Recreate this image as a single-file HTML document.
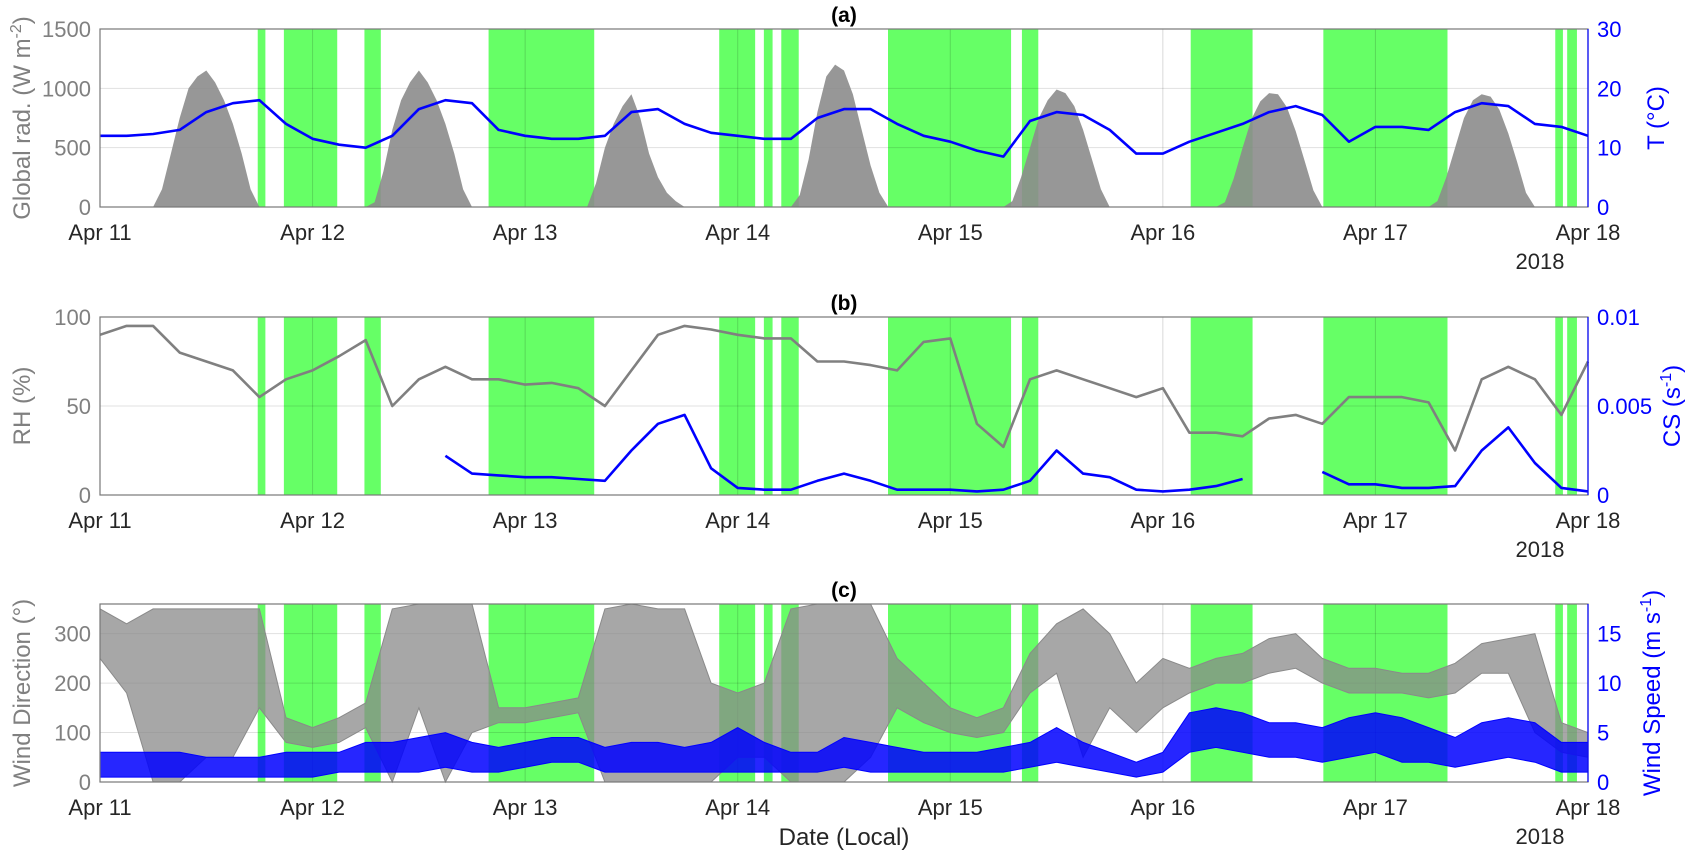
<!DOCTYPE html>
<html><head><meta charset="utf-8">
<style>
html,body{margin:0;padding:0;background:#fff;}
svg{display:block;font-family:"Liberation Sans",sans-serif;}
</style></head>
<body>
<svg id="chart" width="1701" height="855" viewBox="0 0 1701 855" xmlns="http://www.w3.org/2000/svg"></svg>
<script>
// ---- data (x in days since Apr 11 00:00; 3-hourly samples) ----
const dayLabels = ["Apr 11","Apr 12","Apr 13","Apr 14","Apr 15","Apr 16","Apr 17","Apr 18"];
const greenStart = [0.742,0.865,1.244,1.828,2.913,3.123,3.205,3.707,4.337,5.131,5.755,6.846,6.902];
const greenEnd   = [0.778,1.116,1.321,2.325,3.082,3.164,3.287,4.286,4.414,5.422,6.339,6.882,6.948];
// temperature (°C), every 3 h from Apr 11 00:00 to Apr 18 00:00
const tempC = [12,12,12.3,13,16,17.5,18,14,
 11.5,10.5,10,12,16.5,18,17.5,13,
 12,11.5,11.5,12,16,16.5,14,12.5,
 12,11.5,11.5,15,16.5,16.5,14,12,
 11,9.5,8.5,14.5,16,15.5,13,9,
 9,11,12.5,14,16,17,15.5,11,
 13.5,13.5,13,16,17.5,17,14,13.5,12];
// global radiation (W m-2) per day, hourly from 06:00 to 19:00
const radDays = [
 [0,150,450,750,1000,1100,1150,1050,900,700,450,150,0,0],
 [0,40,300,650,900,1050,1150,1050,900,700,450,150,0,0],
 [0,0,200,500,700,850,950,750,450,250,120,50,0,0],
 [0,100,400,800,1100,1200,1150,950,650,350,120,0,0,0],
 [0,50,250,500,750,900,990,960,850,650,400,150,0,0],
 [0,40,240,500,740,890,960,950,840,640,390,140,0,0],
 [0,50,250,500,750,900,950,930,820,620,380,120,0,0]];
// relative humidity (%)
const rh = [90,95,95,80,75,70,55,65,
 70,78,87,50,65,72,65,65,
 62,63,60,50,70,90,95,93,
 90,88,88,75,75,73,70,86,
 88,40,27,65,70,65,60,55,
 60,35,35,33,43,45,40,55,
 55,55,52,25,65,72,65,45,75];
// condensation sink (1e-3 s-1); null = missing
const cs = [null,null,null,null,null,null,null,null,
 null,null,null,null,null,2.2,1.2,1.1,
 1.0,1.0,0.9,0.8,2.5,4.0,4.5,1.5,
 0.4,0.3,0.3,0.8,1.2,0.8,0.3,0.3,
 0.3,0.2,0.3,0.8,2.5,1.2,1.0,0.3,
 0.2,0.3,0.5,0.9,null,null,1.3,0.6,
 0.6,0.4,0.4,0.5,2.5,3.8,1.8,0.4,0.2];
// wind direction range (deg)
const wdLow = [250,180,0,0,50,50,150,80,
 70,80,110,0,150,0,100,120,
 120,130,140,0,0,0,0,0,
 50,50,0,0,0,50,150,120,
 100,90,100,180,220,50,150,100,
 150,180,200,200,220,230,200,180,
 180,180,170,180,220,220,100,60,50];
const wdHigh = [350,320,350,350,350,350,350,130,
 110,130,160,350,360,360,360,150,
 150,160,170,350,360,350,350,200,
 180,200,350,360,360,360,250,200,
 150,130,150,260,320,350,300,200,
 250,230,250,260,290,300,250,230,
 230,220,220,240,280,290,300,120,100];
// wind speed range (m s-1)
const wsLow = [0.5,0.5,0.5,0.5,0.5,0.5,0.5,0.5,
 0.5,1,1,1,1,1.5,1,1,
 1.5,2,2,1,1,1,1,1,
 1,1,1,1,1.5,1,1,1,
 1,1,1,1.5,2,1.5,1,0.5,
 1,3,3.5,3,2.5,2.5,2,2.5,
 3,2,2,1.5,2,2.5,2,1,1];
const wsHigh = [3,3,3,3,2.5,2.5,2.5,3,
 3,3,4,4,4.5,5,4,3.5,
 4,4.5,4.5,3.5,4,4,3.5,4,
 5.5,4,3,3,4.5,4,3.5,3,
 3,3,3.5,4,5.5,4,3,2,
 3,7,7.5,7,6,6,5.5,6.5,
 7,6.5,5.5,4.5,6,6.5,6,4,4];

const NS = "http://www.w3.org/2000/svg";
const svg = document.getElementById("chart");
const L = 100, R = 1588, H = 178;
const tops = [29, 317, 604];
function xs(d){ return L + d/7*(R-L); }
function mk(tag, attrs, parent){
  const e = document.createElementNS(NS, tag);
  for (const k in attrs) e.setAttribute(k, attrs[k]);
  (parent||svg).appendChild(e);
  return e;
}
function txt(s, attrs, parent){ const t = mk("text", attrs, parent); t.textContent = s; return t; }
const tIdx = tempC.map((_, i) => i*0.125);

function panel(p, cfg){
  const top = tops[p], bot = top + H;
  const g = mk("g", {});
  
  
  const yl = v => bot - (v - cfg.lmin)/(cfg.lmax - cfg.lmin)*H;
  const yr = v => bot - (v - cfg.rmin)/(cfg.rmax - cfg.rmin)*H;
  for (let i = 0; i < greenStart.length; i++){
    const r = mk("rect", {x: xs(greenStart[i]), y: top, width: xs(greenEnd[i]) - xs(greenStart[i]), height: H, fill: "#66ff66"}, g);
    
    
  }
  for (let d = 1; d < 7; d++){
    const l = mk("line", {x1: xs(d), x2: xs(d), y1: top, y2: bot, stroke: "#000", "stroke-opacity": 0.15, "stroke-width": 1}, g);
    
    
  }
  cfg.lticks.forEach(v => {
    if (v === cfg.lmin || v === cfg.lmax) return;
    const l = mk("line", {x1: L, x2: R, y1: yl(v), y2: yl(v), stroke: "#000", "stroke-opacity": 0.12, "stroke-width": 1}, g);
    
    
  });
  cfg.draw(g, yl, yr, top, bot);
  const f = mk("rect", {x: L, y: top, width: R-L, height: H, fill: "none", stroke: "#777", "stroke-width": 1.2}, g);
  
  
  const ra = mk("line", {x1: R, x2: R, y1: top, y2: bot, stroke: "#0000ff", "stroke-width": 1.2}, g);
  
  
  dayLabels.forEach((s, d) => {
    const t = txt(s, {x: xs(d), y: bot + 33, "text-anchor": "middle", "font-size": 22, fill: "#262626"}, g);
    
    
  });
  const yr18 = txt("2018", {x: 1540, y: bot + 62, "text-anchor": "middle", "font-size": 22, fill: "#262626"}, g);
  
  
  cfg.lticks.forEach(v => {
    const t = txt(cfg.lfmt(v), {x: 91, y: yl(v) + 8, "text-anchor": "end", "font-size": 22, fill: "#808080"}, g);
    
    
  });
  cfg.rticks.forEach(v => {
    const t = txt(cfg.rfmt(v), {x: 1597, y: yr(v) + 8, "font-size": 22, fill: "#0000ff"}, g);
    
    
  });
  const ttl = txt("(" + cfg.letter + ")", {x: 844, y: top - 7, "text-anchor": "middle", "font-size": 21, "font-weight": "bold", fill: "#000"}, g);
  
  
  const lt = txt("", {transform: "translate(30," + (top + H/2) + ") rotate(-90)", "text-anchor": "middle", "font-size": 24, fill: "#808080"}, g);
  lt.innerHTML = cfg.ltitle;
  
  
  const rt = txt("", {transform: "translate(" + cfg.rtx + "," + (top + H/2) + ") rotate(-90)", "text-anchor": "middle", "font-size": 24, fill: "#0000ff"}, g);
  rt.innerHTML = cfg.rtitle;
  
  
}
function linePath(vals, xf, yf){
  let d = "", pen = false;
  vals.forEach((v, i) => {
    if (v === null){ pen = false; return; }
    d += (pen ? "L" : "M") + xf(i).toFixed(1) + "," + yf(v).toFixed(1);
    pen = true;
  });
  return d;
}
function bandPath(lo, hi, yf){
  let d = "M";
  lo.forEach((v, i) => { d += xs(i*0.125).toFixed(1) + "," + yf(v).toFixed(1) + " "; });
  for (let i = hi.length - 1; i >= 0; i--) d += "L" + xs(i*0.125).toFixed(1) + "," + yf(hi[i]).toFixed(1) + " ";
  return d + "Z";
}

panel(0, {letter: "a", lmin: 0, lmax: 1500, rmin: 0, rmax: 30, rtx: 1664,
  lticks: [0,500,1000,1500], rticks: [0,10,20,30], lfmt: v => v, rfmt: v => v,
  ltitle: 'Global rad. (W m<tspan dy="-9" font-size="16">-2</tspan><tspan dy="9">)</tspan>',
  rtitle: 'T (°C)',
  draw: (g, yl, yr) => {
    radDays.forEach((day, di) => {
      let d = "M" + xs(di + 6/24) + "," + yl(0);
      day.forEach((v, h) => { d += "L" + xs(di + (6+h)/24).toFixed(1) + "," + yl(v).toFixed(1); });
      d += "L" + xs(di + 19/24) + "," + yl(0) + "Z";
      const a = mk("path", {d: d, fill: "#8c8c8c", "fill-opacity": 0.9}, g);
      
      
    });
    const p = mk("path", {d: linePath(tempC, i => xs(tIdx[i]), yr), fill: "none", stroke: "#0000ff", "stroke-width": 2.6, "stroke-linejoin": "round"}, g);
    
    
  }});

panel(1, {letter: "b", lmin: 0, lmax: 100, rmin: 0, rmax: 10, rtx: 1680,
  lticks: [0,50,100], rticks: [0,5,10], lfmt: v => v, rfmt: v => v === 0 ? "0" : (v/1000).toString(),
  ltitle: 'RH (%)',
  rtitle: 'CS (s<tspan dy="-9" font-size="16">-1</tspan><tspan dy="9">)</tspan>',
  draw: (g, yl, yr) => {
    const p = mk("path", {d: linePath(rh, i => xs(i*0.125), yl), fill: "none", stroke: "#808080", "stroke-width": 2.6, "stroke-linejoin": "round"}, g);
    
    
    const q = mk("path", {d: linePath(cs, i => xs(i*0.125), yr), fill: "none", stroke: "#0000ff", "stroke-width": 2.6, "stroke-linejoin": "round"}, g);
    
    
  }});

panel(2, {letter: "c", lmin: 0, lmax: 360, rmin: 0, rmax: 18, rtx: 1660,
  lticks: [0,100,200,300], rticks: [0,5,10,15], lfmt: v => v, rfmt: v => v,
  ltitle: 'Wind Direction (°)',
  rtitle: 'Wind Speed (m s<tspan dy="-9" font-size="16">-1</tspan><tspan dy="9">)</tspan>',
  draw: (g, yl, yr) => {
    const a = mk("path", {d: bandPath(wdLow, wdHigh, yl), fill: "#8a8a8a", "fill-opacity": 0.75, stroke: "#8a8a8a", "stroke-width": 1}, g);
    
    
    const b = mk("path", {d: bandPath(wsLow, wsHigh, yr), fill: "#0000ff", "fill-opacity": 0.85, stroke: "#0000ff", "stroke-width": 1}, g);
    
    
  }});

const xl = txt("Date (Local)", {x: 844, y: 845, "text-anchor": "middle", "font-size": 24, fill: "#262626"});


</script>
</body></html>
